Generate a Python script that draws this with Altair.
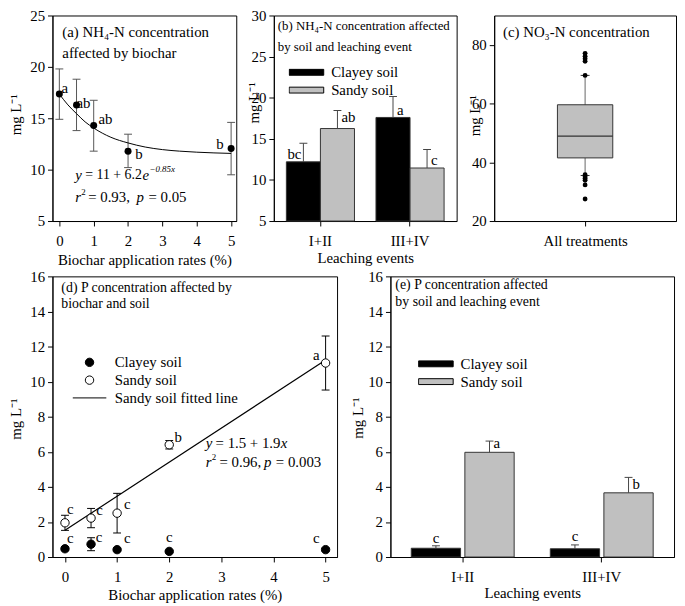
import altair as alt
import pandas as pd

FONT = "Liberation Serif"
GREY = "#c0c0c0"
SOILS = ["Clayey soil", "Sandy soil"]
SERIES = ["Clayey soil", "Sandy soil", "Sandy soil fitted line"]
EVENTS = ["I+II", "III+IV"]

# ---------------- data ----------------
# (a) NH4-N vs biochar rate
a_rate = [0, 0.5, 1, 2, 5]
a_mean = [17.35, 16.3, 14.3, 11.8, 12.05]
a_lo = [14.9, 13.8, 11.8, 10.2, 9.5]
a_hi = [19.8, 18.8, 16.75, 13.45, 14.6]
a_letter = ["a", "ab", "ab", "b", "b"]
a_letter_x = [0.06, 0.5, 1.14, 2.21, 4.57]
a_letter_y = [17.9, 16.5, 14.95, 11.5, 12.45]
a_fit_x = [0, 0.25, 0.5, 0.75, 1, 1.5, 2, 2.5, 3, 3.5, 4, 4.5, 5]
a_fit_y = [17.35, 16.3, 15.45, 14.65, 14.05, 13.15, 12.6, 12.2, 11.95, 11.8, 11.7, 11.63, 11.58]

# (b) NH4-N by soil and leaching event
b_event = ["I+II", "I+II", "III+IV", "III+IV"]
b_soil = ["Clayey soil", "Sandy soil", "Clayey soil", "Sandy soil"]
b_mean = [12.2, 16.25, 17.6, 11.45]
b_err = [14.45, 18.45, 20.15, 13.7]
b_letter = ["bc", "ab", "a", "c"]
b_letter_y = [13.2, 17.7, 18.5, 12.4]
b_letter_side = ["left", "right", "right", "right"]

# (c) NO3-N box plot
c_group = ["All treatments"]
c_q1 = [41.5]
c_median = [48.9]
c_q3 = [59.6]
c_whisk_lo = [35.5]
c_whisk_hi = [69.6]
c_outliers = [77.1, 76.1, 75.3, 74.4, 69.6, 35.8, 35.1, 34.5, 33.9, 32.3, 27.5]

# (d) P vs biochar rate and soil
d_rate = [0, 0.5, 1, 2, 5]
d_clay_mean = [0.47, 0.73, 0.42, 0.32, 0.42]
d_clay_lo = [0.36, 0.36, 0.35, 0.27, 0.34]
d_clay_hi = [0.58, 1.1, 0.5, 0.37, 0.5]
d_sand_mean = [1.95, 2.22, 2.5, 6.4, 11.06]
d_sand_lo = [1.52, 1.67, 1.37, 6.16, 9.52]
d_sand_hi = [2.38, 2.77, 3.63, 6.64, 12.6]
d_clay_letter = ["c", "c", "c", "c", "c"]
d_clay_letter_x = [0.04, 0.59, 1.13, 1.94, 4.76]
d_clay_letter_y = [1.07, 1.11, 1.07, 1.11, 1.07]
d_sand_letter = ["c", "c", "c", "b", "a"]
d_sand_letter_x = [0.04, 0.6, 1.13, 2.1, 4.76]
d_sand_letter_y = [2.72, 2.7, 3.0, 6.86, 11.5]

# (e) P by soil and leaching event
e_event = ["I+II", "I+II", "III+IV", "III+IV"]
e_soil = ["Clayey soil", "Sandy soil", "Clayey soil", "Sandy soil"]
e_mean = [0.5, 5.97, 0.47, 3.66]
e_err = [0.64, 6.61, 0.69, 4.54]
e_letter = ["c", "a", "c", "b"]
e_letter_y = [1.1, 6.52, 1.17, 4.17]

# annotation anchors (data units)
a_eq1 = (0.466, 9.44)
a_eq2 = (0.466, 7.29)
d_eq1 = (2.70, 6.52)
d_eq2 = (2.70, 5.39)

# ---------------- sizes ----------------
H1, H2 = 208, 284
WA, WB, WC = 186, 185, 184
WD, WE = 288, 287

CIRCLE = "M-0.25,0A0.25,0.25 0 1,0 0.25,0A0.25,0.25 0 1,0 -0.25,0Z"
LINE = "M-1,0H1"
BOX = "M-1,-0.17H1V0.17H-1Z"


def ptitle(lines, dx, size, lh, first_center):
    n = len(lines)
    top = first_center - size / 2
    height = lh * n if n > 1 else size
    return alt.Title(text=lines, anchor="start", frame="group", orient="top",
                     offset=-(top + height), dx=dx, fontSize=size, font=FONT,
                     fontWeight="normal", lineHeight=lh, color="black")


def eq_layers(anchor, segs, X, Y):
    src = pd.DataFrame({"x": [anchor[0]], "y": [anchor[1]]})
    out = []
    for txt, dx, dy, size, ital in segs:
        out.append(alt.Chart(src).mark_text(
            text=txt, dx=dx, dy=dy, fontSize=size, font=FONT, color="black",
            fontStyle="italic" if ital else "normal", align="left", baseline="middle"
        ).encode(x=X("x"), y=Y("y")))
    return out


def yaxis(values, tx, ty):
    return alt.Axis(values=values, title="mg L⁻¹", titleX=tx, titleY=ty, titleBaseline="middle")


# ---------------- panel (a) ----------------
xa_scale = alt.Scale(domain=[-0.2, 5.15], nice=False, zero=False)
ya_scale = alt.Scale(domain=[5, 25], nice=False, zero=False)
xa_axis = alt.Axis(values=[0, 1, 2, 3, 4, 5], format="d", title="Biochar application rates (%)",
                   titleY=39, titleBaseline="middle")
ya_axis = yaxis([5, 10, 15, 20, 25], -37, H1 / 2 - 4)


def XA(f):
    return alt.X(f"{f}:Q", scale=xa_scale, axis=xa_axis)


def YA(f):
    return alt.Y(f"{f}:Q", scale=ya_scale, axis=ya_axis)


a_df = pd.DataFrame({"x": a_rate, "y": a_mean, "lo": a_lo, "hi": a_hi})
a_lab = pd.DataFrame({"x": a_letter_x, "y": a_letter_y, "t": a_letter})
a_fit = pd.DataFrame({"x": a_fit_x, "y": a_fit_y})

a_err = alt.Chart(a_df).mark_rule(color="#555", strokeWidth=1).encode(x=XA("x"), y=YA("lo"), y2="hi")
a_caps = alt.Chart(a_df).transform_fold(["lo", "hi"], as_=["k", "cap"]).mark_tick(
    orient="horizontal", size=8, thickness=1, color="#555", opacity=1).encode(x=XA("x"), y=YA("cap"))
a_line = alt.Chart(a_fit).mark_line(color="black", strokeWidth=1, interpolate="monotone").encode(x=XA("x"), y=YA("y"))
a_pts = alt.Chart(a_df).mark_circle(size=50, color="black", opacity=1).encode(x=XA("x"), y=YA("y"))
a_txt = alt.Chart(a_lab).mark_text(align="left", baseline="middle", fontSize=15, font=FONT, color="black").encode(
    x=XA("x"), y=YA("y"), text="t:N")
a_eqs = eq_layers(a_eq1, [("y", 0, 0, 15, True), ("= 11 + 6.2", 10, 0, 14, False),
                          ("e", 68, 0, 15, True), ("−0.85x", 75, -6, 9, True)], XA, YA) + \
        eq_layers(a_eq2, [("r", 0, 0, 15, True), ("2", 6, -6, 9, False), ("= 0.93,", 13, 0, 15, False),
                          ("p", 62, 0, 15, True), ("= 0.05", 74, 0, 15, False)], XA, YA)

panel_a = alt.layer(a_err, a_caps, a_line, a_pts, a_txt, *a_eqs).properties(
    width=WA, height=H1,
    title=ptitle(["(a) NH₄-N concentration", "affected by biochar"], 10, 15, 22, 17))

# ---------------- panel (b) ----------------
b_df = pd.DataFrame({"event": b_event, "soil": b_soil, "mean": b_mean, "err": b_err,
                     "letter": b_letter, "ly": b_letter_y, "side": b_letter_side})
xb = alt.X("event:N", sort=EVENTS, scale=alt.Scale(paddingInner=0.24, paddingOuter=0.14),
           axis=alt.Axis(labelAngle=0, title="Leaching events", titleY=37, titleBaseline="middle"))
xob = alt.XOffset("soil:N", sort=SOILS, scale=alt.Scale(paddingInner=0, paddingOuter=0))
yb_scale = alt.Scale(domain=[5, 30], nice=False, zero=False)
yb_axis = yaxis([5, 10, 15, 20, 25, 30], -21, H1 / 2 - 16)


def YB(f):
    return alt.Y(f"{f}:Q", scale=yb_scale, axis=yb_axis)


def bar_legend(lx, ly):
    return alt.Legend(title=None, orient="none", legendX=lx, legendY=ly,
                      symbolType=BOX, symbolSize=1225,
                      symbolStrokeColor="black", symbolStrokeWidth=1,
                      labelFont=FONT, labelFontSize=15, labelColor="black",
                      labelOffset=7, padding=0, rowPadding=2, clipHeight=15)


b_bars = alt.Chart(b_df).mark_bar(stroke="#333", strokeWidth=1).encode(
    x=xb, xOffset=xob, y=YB("mean"), y2=alt.datum(5),
    color=alt.Color("soil:N", sort=SOILS, scale=alt.Scale(domain=SOILS, range=["black", GREY]),
                    legend=bar_legend(15, 50)))
b_err = alt.Chart(b_df).mark_rule(color="#444").encode(x=xb, xOffset=xob, y=YB("mean"), y2="err")
b_caps = alt.Chart(b_df).mark_tick(orient="horizontal", size=8, thickness=1, color="#444", opacity=1).encode(
    x=xb, xOffset=xob, y=YB("err"))
b_txt_r = alt.Chart(b_df).transform_filter(alt.datum.side == "right").mark_text(
    align="left", dx=4, baseline="middle", fontSize=15, font=FONT, color="black").encode(
    x=xb, xOffset=xob, y=YB("ly"), text="letter:N")
b_txt_l = alt.Chart(b_df).transform_filter(alt.datum.side == "left").mark_text(
    align="right", dx=-2, baseline="middle", fontSize=15, font=FONT, color="black").encode(
    x=xb, xOffset=xob, y=YB("ly"), text="letter:N")

panel_b = alt.layer(b_bars, b_err, b_caps, b_txt_r, b_txt_l).properties(
    width=WB, height=H1,
    title=ptitle(["(b) NH₄-N concentration affected", "\u00a0by soil and leaching event"], 4, 13, 21, 10))

# ---------------- panel (c) ----------------
c_box = pd.DataFrame({"g": c_group, "q1": c_q1, "med": c_median, "q3": c_q3,
                      "lo": c_whisk_lo, "hi": c_whisk_hi})
c_out = pd.DataFrame({"g": c_group * len(c_outliers), "v": c_outliers})
xc = alt.X("g:N", scale=alt.Scale(type="point", padding=0.5), axis=alt.Axis(labelAngle=0, title=None))
yc_scale = alt.Scale(domain=[20, 90], nice=False, zero=False)
yc_axis = yaxis([20, 40, 60, 80], -20, H1 / 2 - 3)


def YC(f):
    return alt.Y(f"{f}:Q", scale=yc_scale, axis=yc_axis)


c_whisk = alt.Chart(c_box).mark_rule(color="#666").encode(x=xc, y=YC("lo"), y2="hi")
c_caps = alt.Chart(c_box).transform_fold(["lo", "hi"], as_=["k", "cap"]).mark_tick(
    orient="horizontal", size=9, thickness=1, color="#333", opacity=1).encode(x=xc, y=YC("cap"))
c_boxm = alt.Chart(c_box).mark_bar(size=56, fill=GREY, stroke="#333", strokeWidth=1).encode(x=xc, y=YC("q1"), y2="q3")
c_med = alt.Chart(c_box).mark_tick(orient="horizontal", size=56, thickness=1.2, color="#333", opacity=1).encode(
    x=xc, y=YC("med"))
c_pts = alt.Chart(c_out).mark_circle(size=24, color="black", opacity=1).encode(x=xc, y=YC("v"))

panel_c = alt.layer(c_whisk, c_boxm, c_med, c_caps, c_pts).properties(
    width=WC, height=H1, title=ptitle(["(c) NO₃-N concentration"], 9, 15, 15, 17))

# ---------------- panel (d) ----------------
xd_scale = alt.Scale(domain=[-0.24, 5.22], nice=False, zero=False)
yd_scale = alt.Scale(domain=[0, 16], nice=False, zero=False)
xd_axis = alt.Axis(values=[0, 1, 2, 3, 4, 5], format="d", title="Biochar application rates (%)",
                   titleY=38, titleBaseline="middle")
yd_axis = yaxis([0, 2, 4, 6, 8, 10, 12, 14, 16], -37, H2 / 2 + 2)


def XD(f):
    return alt.X(f"{f}:Q", scale=xd_scale, axis=xd_axis)


def YD(f):
    return alt.Y(f"{f}:Q", scale=yd_scale, axis=yd_axis)


d_df = pd.DataFrame({
    "x": d_rate + d_rate,
    "y": d_clay_mean + d_sand_mean,
    "lo": d_clay_lo + d_sand_lo,
    "hi": d_clay_hi + d_sand_hi,
    "series": ["Clayey soil"] * len(d_rate) + ["Sandy soil"] * len(d_rate),
})
d_lab = pd.DataFrame({"x": d_clay_letter_x + d_sand_letter_x,
                      "y": d_clay_letter_y + d_sand_letter_y,
                      "t": d_clay_letter + d_sand_letter})

leg_d = alt.Legend(title=None, orient="none", legendX=20, legendY=79, labelFont=FONT,
                   labelFontSize=15, labelColor="black", labelOffset=8, padding=0, rowPadding=2,
                   clipHeight=16, symbolSize=1156, symbolStrokeColor="black", symbolStrokeWidth=1)

d_err = alt.Chart(d_df).mark_rule(color="black").encode(x=XD("x"), y=YD("lo"), y2="hi")
d_caps = alt.Chart(d_df).transform_fold(["lo", "hi"], as_=["k", "cap"]).mark_tick(
    orient="horizontal", size=8, thickness=1, color="black", opacity=1).encode(x=XD("x"), y=YD("cap"))
d_line = alt.Chart(d_df).transform_filter(alt.datum.series == "Sandy soil").transform_regression(
    "x", "y", method="linear", extent=[0, 5]).mark_line(color="black", strokeWidth=1.2).encode(x=XD("x"), y=YD("y"))
d_pts = alt.Chart(d_df).mark_point(opacity=1, strokeWidth=1, size=1156, filled=True).encode(
    x=XD("x"), y=YD("y"),
    shape=alt.Shape("series:N", scale=alt.Scale(domain=SERIES, range=[CIRCLE, CIRCLE, LINE]), legend=leg_d),
    fill=alt.Fill("series:N", scale=alt.Scale(domain=SERIES, range=["black", "white", "black"]), legend=leg_d),
    stroke=alt.Stroke("series:N", scale=alt.Scale(domain=SERIES, range=["black", "black", "black"]), legend=leg_d))
d_txt = alt.Chart(d_lab).mark_text(align="left", baseline="middle", fontSize=15, font=FONT, color="black").encode(
    x=XD("x"), y=YD("y"), text="t:N")
d_eqs = eq_layers(d_eq1, [("y", 0, 0, 15, True), ("= 1.5 + 1.9", 10, 0, 15, False),
                          ("x", 76, 0, 15, True)], XD, YD) + \
        eq_layers(d_eq2, [("r", 0, 0, 15, True), ("2", 6, -6, 9, False), ("= 0.96,", 14, 0, 15, False),
                          ("p", 59, 0, 15, True), ("= 0.003", 71, 0, 15, False)], XD, YD)

panel_d = alt.layer(d_err, d_caps, d_line, d_pts, d_txt, *d_eqs).properties(
    width=WD, height=H2,
    title=ptitle(["(d) P concentration affected by", "\u00a0" * 7 + "biochar and soil"], 9, 14, 16, 17))

# ---------------- panel (e) ----------------
e_df = pd.DataFrame({"event": e_event, "soil": e_soil, "mean": e_mean, "err": e_err,
                     "letter": e_letter, "ly": e_letter_y})
xe = alt.X("event:N", sort=EVENTS, scale=alt.Scale(paddingInner=0.26, paddingOuter=0.15),
           axis=alt.Axis(labelAngle=0, title="Leaching events", titleY=36, titleBaseline="middle"))
xoe = alt.XOffset("soil:N", sort=SOILS, scale=alt.Scale(paddingInner=0.08, paddingOuter=0))
ye_scale = alt.Scale(domain=[0, 16], nice=False, zero=False)
ye_axis = yaxis([0, 2, 4, 6, 8, 10, 12, 14, 16], -33, H2 / 2 + 1)


def YE(f):
    return alt.Y(f"{f}:Q", scale=ye_scale, axis=ye_axis)


e_bars = alt.Chart(e_df).mark_bar(stroke="#333", strokeWidth=1).encode(
    x=xe, xOffset=xoe, y=YE("mean"), y2=alt.datum(0),
    color=alt.Color("soil:N", sort=SOILS, scale=alt.Scale(domain=SOILS, range=["black", GREY]),
                    legend=bar_legend(28, 81)))
e_err = alt.Chart(e_df).mark_rule(color="#444").encode(x=xe, xOffset=xoe, y=YE("mean"), y2="err")
e_caps = alt.Chart(e_df).mark_tick(orient="horizontal", size=8, thickness=1, color="#444", opacity=1).encode(
    x=xe, xOffset=xoe, y=YE("err"))
e_txt_c = alt.Chart(e_df).transform_filter(alt.datum.soil == "Clayey soil").mark_text(
    align="center", baseline="middle", fontSize=15, font=FONT, color="black").encode(
    x=xe, xOffset=xoe, y=YE("ly"), text="letter:N")
e_txt_s = alt.Chart(e_df).transform_filter(alt.datum.soil == "Sandy soil").mark_text(
    align="left", dx=4, baseline="middle", fontSize=15, font=FONT, color="black").encode(
    x=xe, xOffset=xoe, y=YE("ly"), text="letter:N")

panel_e = alt.layer(e_bars, e_err, e_caps, e_txt_c, e_txt_s).properties(
    width=WE, height=H2,
    title=ptitle(["(e) P concentration affected", "\u00a0by soil and leaching event"], 5, 14, 17, 13))

# ---------------- layout ----------------
RS = dict(color="independent", fill="independent", shape="independent", stroke="independent")

top = alt.hconcat(panel_a, panel_b, panel_c, spacing=38, bounds="flush").resolve_scale(
    xOffset="independent", **RS).resolve_legend(**RS)
bottom = alt.hconcat(panel_d, panel_e, spacing=54, bounds="flush").resolve_scale(
    xOffset="independent", **RS).resolve_legend(**RS)

chart = alt.vconcat(top, bottom, spacing=0).resolve_scale(
    xOffset="independent", **RS).resolve_legend(**RS).configure(
    font=FONT, padding={"left": 0, "top": -4, "right": 0, "bottom": 0}
).configure_view(stroke="black", strokeWidth=1).configure_axis(
    labelFont=FONT, titleFont=FONT, labelFontSize=15, titleFontSize=15, titleFontWeight="normal",
    labelColor="black", titleColor="black", domainColor="black", tickColor="black",
    tickSize=5, grid=False, labelFlush=False, domainWidth=1, tickWidth=1
).configure_axisX(labelPadding=8).configure_axisY(labelPadding=3).configure_legend(
    labelFont=FONT, titleFont=FONT, labelFontSize=15, labelColor="black"
)

chart.save("out.html", embed_options={"renderer": "svg", "actions": False})
